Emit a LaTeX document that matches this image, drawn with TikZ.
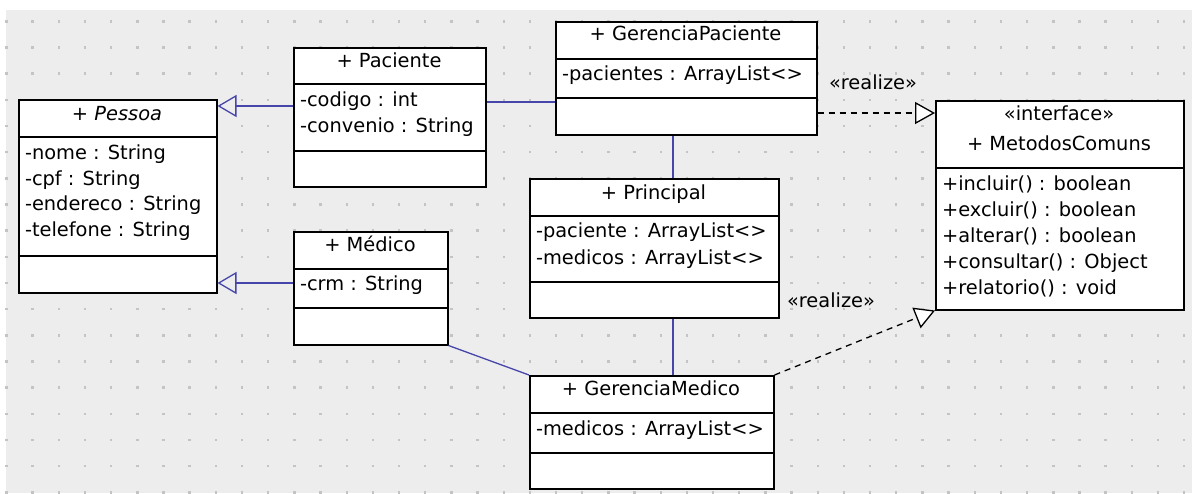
\documentclass[tikz,border=0pt]{standalone}
\usepackage{fontspec}
\setmainfont{DejaVu Sans}
\usetikzlibrary{arrows.meta,shadows}
\definecolor{bggray}{RGB}{237,237,237}
\definecolor{dotgray}{RGB}{196,196,196}
\definecolor{assocblue}{RGB}{70,70,170}
\begin{document}
\begin{tikzpicture}[x=1pt,y=-1pt,
  boxstyle/.style={draw=black, line width=1.5pt, fill=white, rectangle, inner sep=0pt, anchor=north west,
    drop shadow={shadow xshift=1.6pt, shadow yshift=-1.6pt, opacity=0.45, fill=black!60}},
  sepline/.style={draw=black, line width=1.3pt},
  txt/.style={inner sep=0pt, outer sep=0pt, font=\fontsize{19.4}{23}\selectfont},
  attr/.style={txt, anchor=base west},
  title/.style={txt, anchor=base},
  assoc/.style={draw=assocblue, line width=1.3pt},
  genarrow/.style={-{Triangle[open, length=19pt, width=22pt, line width=1.3pt]}},
  realline/.style={draw=black, line width=1.3pt, dash pattern=on 6pt off 5pt,
    -{Triangle[open, fill=white, length=20pt, width=22pt, line width=1.3pt]}},
  lbl/.style={txt, anchor=base west}
]
\useasboundingbox (0,0) rectangle (1192,493);
\fill[white] (0,0) rectangle (1192,493);
\fill[bggray] (6,10) rectangle (1192,493);
\foreach \i in {0,...,45} {
  \foreach \j in {0,...,18} {
    \fill[dotgray] ({6.5+26.17*\i-1.2},{21.3+26.17*\j-1.2}) rectangle +(2.4,2.4);
  }
}

% Pessoa
\node[boxstyle, minimum width=198pt, minimum height=193pt] (pessoa) at (18,99) {};
\draw[sepline] (pessoa.west |- 0,137) -- (pessoa.east |- 0,137);
\draw[sepline] (pessoa.west |- 0,256) -- (pessoa.east |- 0,256);
\node[title] (pessoaT) at (117,120) {+ \itshape Pessoa};
\node[attr] (pessoaA1) at (25,159) {-nome : String};
\node[attr] (pessoaA2) at (25,185) {-cpf : String};
\node[attr] (pessoaA3) at (25,210.5) {-endereco : String};
\node[attr] (pessoaA4) at (25,236) {-telefone : String};

% Paciente
\node[boxstyle, minimum width=192pt, minimum height=139pt] (paciente) at (293,47) {};
\draw[sepline] (paciente.west |- 0,84) -- (paciente.east |- 0,84);
\draw[sepline] (paciente.west |- 0,151) -- (paciente.east |- 0,151);
\node[title] (pacienteT) at (389,67.3) {+ Paciente};
\node[attr] (pacienteA1) at (300,106.5) {-codigo : int};
\node[attr] (pacienteA2) at (300,132) {-convenio : String};

% GerenciaPaciente
\node[boxstyle, minimum width=261pt, minimum height=113pt] (gp) at (555,21) {};
\draw[sepline] (gp.west |- 0,59) -- (gp.east |- 0,59);
\draw[sepline] (gp.west |- 0,98) -- (gp.east |- 0,98);
\node[title] (gpT) at (685.5,40.5) {+ GerenciaPaciente};
\node[attr] (gpA1) at (562,80) {-pacientes : ArrayList<>};

% MetodosComuns
\node[boxstyle, minimum width=248pt, minimum height=209pt] (mc) at (935,100) {};
\draw[sepline] (mc.west |- 0,168) -- (mc.east |- 0,168);
\node[title] (mcS) at (1059,120.5) {«interface»};
\node[title] (mcT) at (1059,150.7) {+ MetodosComuns};
\node[attr] (mcM1) at (942,190) {+incluir() : boolean};
\node[attr] (mcM2) at (942,216) {+excluir() : boolean};
\node[attr] (mcM3) at (942,242) {+alterar() : boolean};
\node[attr] (mcM4) at (942,268.3) {+consultar() : Object};
\node[attr] (mcM5) at (942,294.3) {+relatorio() : void};

% Principal
\node[boxstyle, minimum width=249pt, minimum height=139pt] (principal) at (529,178) {};
\draw[sepline] (principal.west |- 0,216) -- (principal.east |- 0,216);
\draw[sepline] (principal.west |- 0,282) -- (principal.east |- 0,282);
\node[title] (principalT) at (653.5,199) {+ Principal};
\node[attr] (principalA1) at (536,237.7) {-paciente : ArrayList<>};
\node[attr] (principalA2) at (536,264) {-medicos : ArrayList<>};

% Medico
\node[boxstyle, minimum width=154pt, minimum height=113pt] (medico) at (293,231) {};
\draw[sepline] (medico.west |- 0,269) -- (medico.east |- 0,269);
\draw[sepline] (medico.west |- 0,308) -- (medico.east |- 0,308);
\node[title] (medicoT) at (370,251) {+ Médico};
\node[attr] (medicoA1) at (300,290.7) {-crm : String};

% GerenciaMedico
\node[boxstyle, minimum width=244pt, minimum height=113pt] (gm) at (529,375) {};
\draw[sepline] (gm.west |- 0,413) -- (gm.east |- 0,413);
\draw[sepline] (gm.west |- 0,453) -- (gm.east |- 0,453);
\node[title] (gmT) at (651,395.7) {+ GerenciaMedico};
\node[attr] (gmA1) at (536,435) {-medicos : ArrayList<>};

% connectors
\draw[assoc, genarrow] (paciente.west |- 0,106) -- (pessoa.east |- 0,106);
\draw[assoc, genarrow] (medico.west |- 0,283) -- (pessoa.east |- 0,283);
\draw[assoc] (paciente.east |- 0,102) -- (gp.west |- 0,102);
\draw[assoc] (gp.south -| 673,0) -- (principal.north -| 673,0);
\draw[assoc] (principal.south -| 673,0) -- (gm.north -| 673,0);
\draw[assoc] (medico.south east) -- (gm.north west);
\draw[realline] (gp.east |- 0,113) -- (mc.west |- 0,113);
\draw[realline] (gm.north east) -- (mc.south west);
\node[lbl] (real1) at (829,89.3) {«realize»};
\node[lbl] (real2) at (787,307.3) {«realize»};
\end{tikzpicture}
\end{document}
